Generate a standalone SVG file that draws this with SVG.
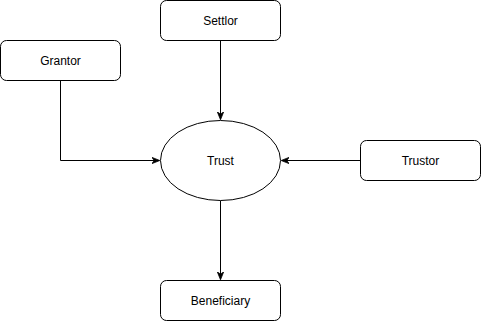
<svg xmlns="http://www.w3.org/2000/svg" width="481" height="321" viewBox="0 0 481 321">
<style>
.n{fill:#fff;stroke:#000;stroke-width:1}
.t{font-family:"Liberation Sans",Arial,Helvetica,sans-serif;font-size:12px;fill:#000;text-anchor:middle;dominant-baseline:central}
.e{fill:none;stroke:#000;stroke-width:1}
</style>
<defs>
<marker id="a" viewBox="0 0 10 10" refX="9" refY="5" markerWidth="8" markerHeight="8" markerUnits="userSpaceOnUse" orient="auto">
<path d="M0,1 L10,5 L0,9 L3,5 Z" fill="#000" stroke="#000" stroke-width="1"/>
</marker>
</defs>
<rect width="481" height="321" fill="#fff"/>
<g id="edges">
<path class="e" d="M60.5,80.5 V160.5 H159" marker-end="url(#a)"/>
<path class="e" d="M220.5,40.5 V119" marker-end="url(#a)"/>
<path class="e" d="M360.5,160.5 H282" marker-end="url(#a)"/>
<path class="e" d="M220.5,200.5 V279" marker-end="url(#a)"/>
</g>
<g id="settlor"><rect class="n" x="160.5" y="0.5" width="120" height="40" rx="6"/><text class="t" x="220.5" y="20.5">Settlor</text></g>
<g id="grantor"><rect class="n" x="0.5" y="40.5" width="120" height="40" rx="6"/><text class="t" x="60.5" y="60.5">Grantor</text></g>
<g id="trust"><ellipse class="n" cx="220.5" cy="160.5" rx="60" ry="40"/><text class="t" x="220.5" y="160.5">Trust</text></g>
<g id="trustor"><rect class="n" x="360.5" y="140.5" width="120" height="40" rx="6"/><text class="t" x="420.5" y="160.5">Trustor</text></g>
<g id="beneficiary"><rect class="n" x="160.5" y="280.5" width="120" height="40" rx="6"/><text class="t" x="220.5" y="300.5">Beneficiary</text></g>
</svg>
